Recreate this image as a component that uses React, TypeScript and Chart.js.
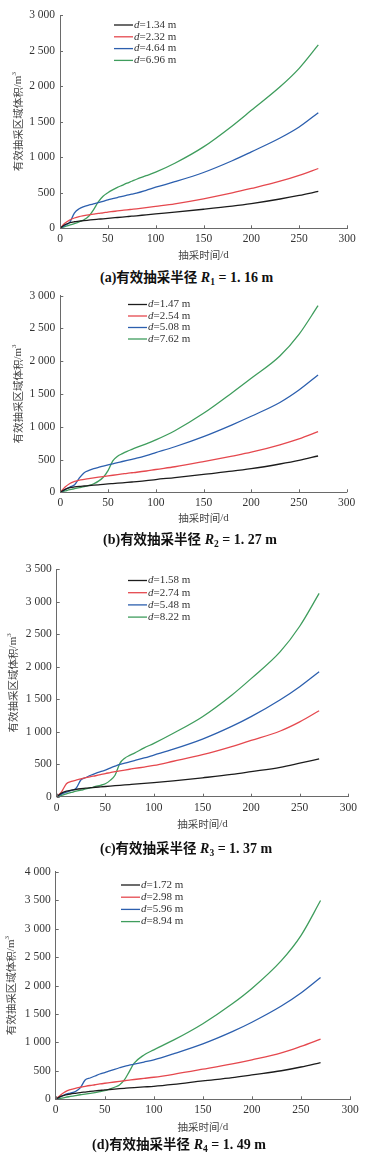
import React, { useEffect, useRef } from "react";
import { Chart, registerables } from "chart.js";
Chart.register(...registerables);

// ---- data ----
const days = [0, 5, 10, 15, 20, 25, 30, 35, 40, 45, 50, 55, 60, 65, 70, 75, 80, 90, 100, 120, 150, 180, 200, 230, 250, 270];

const xTicks = [0, 50, 100, 150, 200, 250, 300];

// (a) R1 = 1.16 m
const aLabels = ["=1.34 m", "=2.32 m", "=4.64 m", "=6.96 m"];
const a134 = [0, 50, 78, 92, 100, 108, 115, 122, 128, 134, 140, 146, 152, 158, 164, 170, 176, 190, 203, 228, 268, 312, 347, 412, 462, 519];
const a232 = [0, 70, 115, 145, 165, 178, 190, 200, 210, 218, 228, 236, 244, 252, 260, 267, 274, 290, 308, 345, 415, 497, 560, 662, 745, 841];
const a464 = [0, 40, 80, 215, 275, 305, 325, 345, 362, 380, 400, 417, 433, 450, 465, 480, 495, 535, 578, 655, 785, 950, 1075, 1270, 1425, 1626];
const a696 = [0, 25, 45, 65, 90, 120, 170, 260, 370, 450, 500, 540, 575, 605, 635, 662, 690, 740, 790, 915, 1145, 1440, 1659, 1990, 2250, 2579];

// (b) R2 = 1.27 m
const bLabels = ["=1.47 m", "=2.54 m", "=5.08 m", "=7.62 m"];
const b147 = [0, 45, 70, 82, 90, 96, 102, 108, 114, 120, 127, 133, 139, 145, 151, 157, 163, 177, 195, 225, 275, 322, 360, 432, 487, 554];
const b254 = [0, 80, 135, 165, 185, 198, 210, 220, 230, 240, 250, 260, 270, 280, 290, 298, 306, 325, 348, 390, 468, 552, 612, 725, 815, 926];
const b508 = [0, 40, 80, 115, 220, 300, 335, 360, 380, 400, 418, 435, 452, 470, 487, 503, 520, 560, 605, 695, 850, 1030, 1160, 1370, 1560, 1790];
const b762 = [0, 20, 40, 55, 70, 85, 105, 130, 170, 230, 330, 480, 550, 590, 625, 655, 685, 740, 800, 940, 1205, 1520, 1740, 2080, 2410, 2848];

// (c) R3 = 1.37 m
const cLabels = ["=1.58 m", "=2.74 m", "=5.48 m", "=8.22 m"];
const c158 = [0, 55, 84, 100, 112, 122, 131, 138, 145, 151, 157, 163, 169, 175, 181, 187, 193, 204, 215, 242, 290, 342, 385, 452, 515, 581];
const c274 = [0, 75, 200, 235, 255, 275, 292, 308, 322, 338, 356, 370, 385, 398, 410, 422, 434, 456, 480, 545, 645, 770, 865, 1010, 1150, 1322];
const c548 = [0, 40, 70, 95, 130, 260, 295, 330, 360, 385, 408, 440, 470, 497, 515, 535, 555, 595, 640, 730, 885, 1080, 1230, 1490, 1691, 1921];
const c822 = [0, 20, 45, 65, 85, 100, 120, 135, 157, 175, 199, 251, 330, 513, 592, 635, 670, 750, 820, 975, 1230, 1560, 1815, 2230, 2620, 3125];

// (d) R4 = 1.49 m
const dLabels = ["=1.72 m", "=2.98 m", "=5.96 m", "=8.94 m"];
const d172 = [0, 50, 76, 93, 106, 118, 128, 138, 147, 156, 165, 172, 179, 186, 193, 200, 206, 217, 228, 262, 324, 382, 430, 502, 568, 647];
const d298 = [0, 76, 135, 170, 194, 212, 228, 243, 256, 270, 282, 293, 304, 315, 326, 337, 348, 368, 388, 440, 529, 622, 694, 815, 930, 1059];
const d596 = [0, 45, 88, 110, 135, 200, 340, 375, 410, 445, 471, 500, 528, 555, 580, 600, 618, 655, 694, 800, 975, 1190, 1355, 1640, 1870, 2143];
const d894 = [0, 18, 35, 50, 65, 80, 92, 105, 118, 135, 153, 180, 212, 253, 341, 488, 635, 780, 870, 1040, 1330, 1680, 1950, 2440, 2880, 3496];

const colors = ["#1c1c1c", "#e5484e", "#2c5fae", "#3f9d5d"];

type PanelDef = {
  top: number; height: number; L: number; R: number; T: number; B: number; yMax: number;
  series: number[][]; labels: string[];
  legendX: number; legendY: number; legendDy: number;
  yTitleX: number; xTitleY: number;
  capX: number; capY: number; letter: string; sub: string; val: string;
};

const panels: PanelDef[] = [
  { top: 0, height: 265, L: 60, R: 347, T: 15, B: 228.3, yMax: 3000, series: [a134, a232, a464, a696], labels: aLabels,
    legendX: 114, legendY: 25, legendDy: 11.8, yTitleX: 18, xTitleY: 255, capX: 100, capY: 276, letter: "a", sub: "1", val: "1. 16" },
  { top: 280, height: 250, L: 60.3, R: 346.7, T: 295.7, B: 492.3, yMax: 3000, series: [b147, b254, b508, b762], labels: bLabels,
    legendX: 128, legendY: 304.5, legendDy: 11.5, yTitleX: 18, xTitleY: 518, capX: 103, capY: 538, letter: "b", sub: "2", val: "1. 27" },
  { top: 555, height: 280, L: 56.7, R: 348.3, T: 569, B: 796.7, yMax: 3500, series: [c158, c274, c548, c822], labels: cLabels,
    legendX: 128, legendY: 580.5, legendDy: 12.2, yTitleX: 13, xTitleY: 824, capX: 100, capY: 847, letter: "c", sub: "3", val: "1. 37" },
  { top: 860, height: 275, L: 55.7, R: 350, T: 869.3, B: 1099.3, yMax: 4000, series: [d172, d298, d596, d894], labels: dLabels,
    legendX: 121, legendY: 885, legendDy: 12.2, yTitleX: 11.5, xTitleY: 1127, capX: 92, capY: 1143, letter: "d", sub: "4", val: "1. 49" },
];

const SERIF = "'Liberation Serif', 'Times New Roman', serif";
const CJK = "'Noto Sans CJK SC', sans-serif";
const AXIS = "#6a6a6a";
const TXT = "#333";

function fmt(v: number): string {
  if (v >= 1000) return `${Math.floor(v / 1000)} ${String(v % 1000).padStart(3, "0")}`;
  return String(v);
}

function Panel({ p }: { p: PanelDef }) {
  const ref = useRef<HTMLCanvasElement>(null);
  useEffect(() => {
    const canvas = ref.current!;
    const ct = p.top;
    const deco = {
      id: "deco",
      afterDraw(chart: any) {
        const ctx = chart.ctx as CanvasRenderingContext2D;
        const xs = chart.scales.x;
        const ys = chart.scales.y;
        const area = chart.chartArea;
        ctx.save();
        // inward tick marks
        ctx.strokeStyle = AXIS;
        ctx.lineWidth = 1;
        ctx.beginPath();
        xTicks.forEach((v) => {
          const px = Math.round(xs.getPixelForValue(v)) + 0.5;
          ctx.moveTo(px, area.bottom);
          ctx.lineTo(px, area.bottom - 3);
        });
        for (let v = 0; v <= p.yMax; v += 500) {
          const py = Math.round(ys.getPixelForValue(v)) + 0.5;
          ctx.moveTo(area.left, py);
          ctx.lineTo(area.left + 3, py);
        }
        ctx.stroke();

        // legend
        p.labels.forEach((lab, i) => {
          const y = p.legendY + i * p.legendDy - ct;
          ctx.strokeStyle = colors[i];
          ctx.lineWidth = 1.3;
          ctx.beginPath();
          ctx.moveTo(p.legendX, y);
          ctx.lineTo(p.legendX + 19, y);
          ctx.stroke();
          ctx.fillStyle = TXT;
          ctx.textBaseline = "middle";
          ctx.textAlign = "left";
          ctx.font = `italic 11px ${SERIF}`;
          ctx.fillText("d", p.legendX + 20, y);
          const dw = ctx.measureText("d").width;
          ctx.font = `11px ${SERIF}`;
          ctx.fillText(lab, p.legendX + 20 + dw, y);
        });

        // x title
        ctx.fillStyle = "#444";
        ctx.textBaseline = "middle";
        ctx.font = `10.5px ${CJK}`;
        const xt1 = "抽采时间";
        const w1 = ctx.measureText(xt1).width;
        ctx.font = `11px ${SERIF}`;
        const xt2 = "/d";
        const w2 = ctx.measureText(xt2).width;
        const cx = (area.left + area.right) / 2;
        const xty = p.xTitleY - ct;
        ctx.textAlign = "left";
        ctx.font = `10.5px ${CJK}`;
        ctx.fillText(xt1, cx - (w1 + w2) / 2, xty);
        ctx.font = `11px ${SERIF}`;
        ctx.fillText(xt2, cx - (w1 + w2) / 2 + w1, xty);

        // y title (rotated)
        ctx.save();
        ctx.translate(p.yTitleX, (area.top + area.bottom) / 2);
        ctx.rotate(-Math.PI / 2);
        const yt1 = "有效抽采区域体积";
        ctx.font = `10.5px ${CJK}`;
        const yw1 = ctx.measureText(yt1).width;
        ctx.font = `11px ${SERIF}`;
        const yt2 = "/m";
        const yw2 = ctx.measureText(yt2).width;
        ctx.font = `7px ${SERIF}`;
        const yw3 = ctx.measureText("3").width;
        const tot = yw1 + yw2 + yw3;
        let sx = -tot / 2;
        ctx.textAlign = "left";
        ctx.font = `10.5px ${CJK}`;
        ctx.fillText(yt1, sx, 0);
        sx += yw1;
        ctx.font = `11px ${SERIF}`;
        ctx.fillText(yt2, sx, 0);
        sx += yw2;
        ctx.font = `7px ${SERIF}`;
        ctx.fillText("3", sx, -4);
        ctx.restore();

        ctx.restore();
      },
    };

    const chart = new Chart(canvas, {
      type: "line",
      data: {
        datasets: p.series.map((s, i) => ({
          label: "d" + p.labels[i],
          data: days.map((d, j) => ({ x: d, y: s[j] })),
          borderColor: colors[i],
          backgroundColor: colors[i],
          borderWidth: 1.3,
          pointRadius: 0,
          cubicInterpolationMode: "monotone" as const,
          fill: false,
        })),
      },
      options: {
        responsive: false,
        animation: false,
        devicePixelRatio: 1,
        layout: { padding: { top: p.T - ct, right: 370 - p.R, left: 0, bottom: 0 } },
        plugins: { legend: { display: false }, tooltip: { enabled: false } },
        scales: {
          x: {
            type: "linear",
            min: 0,
            max: 300,
            afterBuildTicks: (s: any) => { s.ticks = xTicks.map((v) => ({ value: v })); },
            ticks: { padding: 4, color: TXT, font: { family: SERIF, size: 11.5 }, maxRotation: 0, autoSkip: false },
            grid: { display: false, drawTicks: false },
            border: { display: true, color: AXIS, width: 1 },
            afterFit: (s: any) => { s.height = ct + p.height - p.B; },
          },
          y: {
            type: "linear",
            min: 0,
            max: p.yMax,
            ticks: { stepSize: 500, padding: 5, color: TXT, font: { family: SERIF, size: 11.5 }, callback: (v: any) => fmt(Number(v)) },
            grid: { display: false, drawTicks: false },
            border: { display: true, color: AXIS, width: 1 },
            afterFit: (s: any) => { s.width = p.L; },
          },
        },
      },
      plugins: [deco],
    } as any);
    return () => chart.destroy();
  }, [p]);

  return (
    <>
      <canvas ref={ref} width={370} height={p.height}
        style={{ position: "absolute", left: 0, top: p.top, width: 370, height: p.height }} />
      <div style={{
        position: "absolute", left: p.capX, top: p.capY - 10, height: 20, lineHeight: "20px",
        fontSize: 14, fontWeight: "bold", whiteSpace: "pre", color: "#111", fontFamily: SERIF,
      }}>
        {`(${p.letter})`}
        <span style={{ fontFamily: CJK, fontSize: 13.5 }}>有效抽采半径</span>
        {" "}
        <i>R</i>
        <span style={{ fontSize: 9.5, position: "relative", top: 3 }}>{p.sub}</span>
        {` = ${p.val} m`}
      </div>
    </>
  );
}

export default function App() {
  return (
    <div style={{ position: "absolute", left: 0, top: 0, width: 370, height: 1168, background: "#fff", overflow: "hidden" }}>
      {panels.map((p, i) => <Panel key={i} p={p} />)}
    </div>
  );
}
